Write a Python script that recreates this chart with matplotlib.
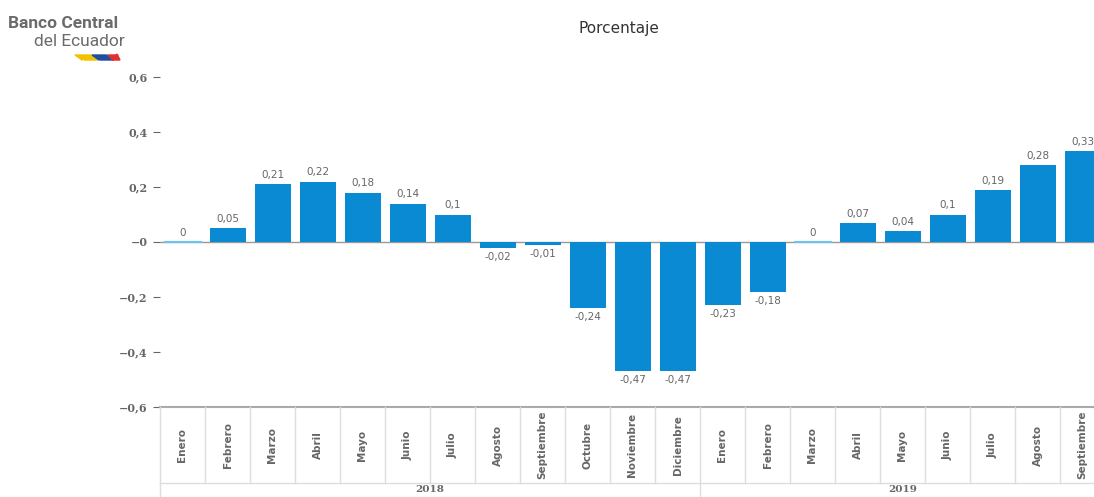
import matplotlib.pyplot as plt
from matplotlib.patches import Polygon
import matplotlib.transforms as mtransforms

meses = ['Enero', 'Febrero', 'Marzo', 'Abril', 'Mayo', 'Junio', 'Julio', 'Agosto',
         'Septiembre', 'Octubre', 'Noviembre', 'Diciembre',
         'Enero', 'Febrero', 'Marzo', 'Abril', 'Mayo', 'Junio', 'Julio', 'Agosto',
         'Septiembre']
anios = ['2018', '2019']
meses_por_anio = [12, 9]
valores = [0, 0.05, 0.21, 0.22, 0.18, 0.14, 0.1, -0.02, -0.01, -0.24, -0.47, -0.47,
           -0.23, -0.18, 0, 0.07, 0.04, 0.1, 0.19, 0.28, 0.33]
yticks = [-0.6, -0.4, -0.2, 0, 0.2, 0.4, 0.6]
ytick_labels = ['\u22120,6', '\u22120,4', '\u22120,2', '\u22120', '0,2', '0,4', '0,6']

azul = '#0a8ad2'
gris = '#666666'

W, H = 1094, 497
fig = plt.figure(figsize=(W / 100, H / 100), dpi=100)
ax = fig.add_axes([160 / W, 1 - 407 / H, 945 / W, 330 / H])

for i, v in enumerate(valores):
    if v == 0:
        ax.plot([i - 0.4, i + 0.4], [0, 0], color='#6cc3f0', lw=1.5, zorder=3)
    else:
        ax.bar(i, v, width=0.8, color=azul, zorder=3)
    etiqueta = ('%g' % v).replace('.', ',')
    if v >= 0:
        ax.annotate(etiqueta, (i, v), xytext=(0, 3), textcoords='offset points',
                    ha='center', va='bottom', fontsize=7.5, color=gris)
    else:
        ax.annotate(etiqueta, (i, v), xytext=(0, -3), textcoords='offset points',
                    ha='center', va='top', fontsize=7.5, color=gris)

ax.axhline(0, color='#999999', lw=1, zorder=2)
ax.set_xlim(-0.5, len(valores) - 0.5)
ax.set_ylim(-0.6, 0.6)
ax.set_yticks(yticks)
ax.set_yticklabels(ytick_labels, fontsize=8, fontweight='bold', color=gris,
                   family='DejaVu Serif')
ax.tick_params(axis='y', length=5, color=gris, pad=4)
ax.set_xticks([])
for s in ax.spines.values():
    s.set_visible(False)

# bloque de categorias bajo el eje
trans = mtransforms.blended_transform_factory(ax.transData, ax.transAxes)
ax.plot([-0.5, len(valores) - 0.5], [0, 0], transform=trans, color='#aaaaaa',
        lw=1.5, clip_on=False)
band = -76 / 330
bottom = -95 / 330
ax.plot([-0.5, len(valores) - 0.5], [band, band], transform=trans, color='#dddddd',
        lw=1, clip_on=False)
for i in range(len(valores) + 1):
    ax.plot([i - 0.5, i - 0.5], [0, band], transform=trans, color='#dddddd', lw=1,
            clip_on=False)
for i, m in enumerate(meses):
    ax.text(i, band / 2, m, transform=trans, rotation=90, ha='center', va='center',
            fontsize=7.5, fontweight='bold', color=gris)

inicio = 0
for anio, n in zip(anios, meses_por_anio):
    ax.plot([inicio - 0.5, inicio - 0.5], [band, bottom], transform=trans,
            color='#dddddd', lw=1, clip_on=False)
    ax.text(inicio - 0.5 + n / 2, -83 / 330, anio, transform=trans, ha='center',
            va='center', fontsize=7.5, fontweight='bold', color=gris,
            family='DejaVu Serif')
    inicio += n

fig.text(619 / W, 1 - 29 / H, 'Porcentaje', ha='center', va='center', fontsize=11,
         color='#333333')

# logo
fig.text(8 / W, 1 - 23 / H, 'Banco Central', fontsize=12.5, fontweight='bold',
         color='#6b6b6b', va='center', family='Roboto')
fig.text(34 / W, 1 - 42 / H, 'del Ecuador', fontsize=12.5, color='#6b6b6b',
         va='center', family='Roboto')
tri = [((75, 55), (90, 55), (82, 60), '#f2c200'),
       ((84, 60), (91, 55), (98, 60), '#f2c200'),
       ((92, 55), (106, 55), (99, 60), '#1f4fa0'),
       ((100, 60), (107, 55), (114, 60), '#1f4fa0'),
       ((108, 55), (118, 55), (113, 60), '#e03030'),
       ((112, 60), (117, 54), (120, 60), '#e03030')]
for a, b, c, col in tri:
    pts = [(p[0] / W, 1 - p[1] / H) for p in (a, b, c)]
    fig.patches.append(Polygon(pts, closed=True, color=col, transform=fig.transFigure))

fig.savefig('out.png', dpi=100)
